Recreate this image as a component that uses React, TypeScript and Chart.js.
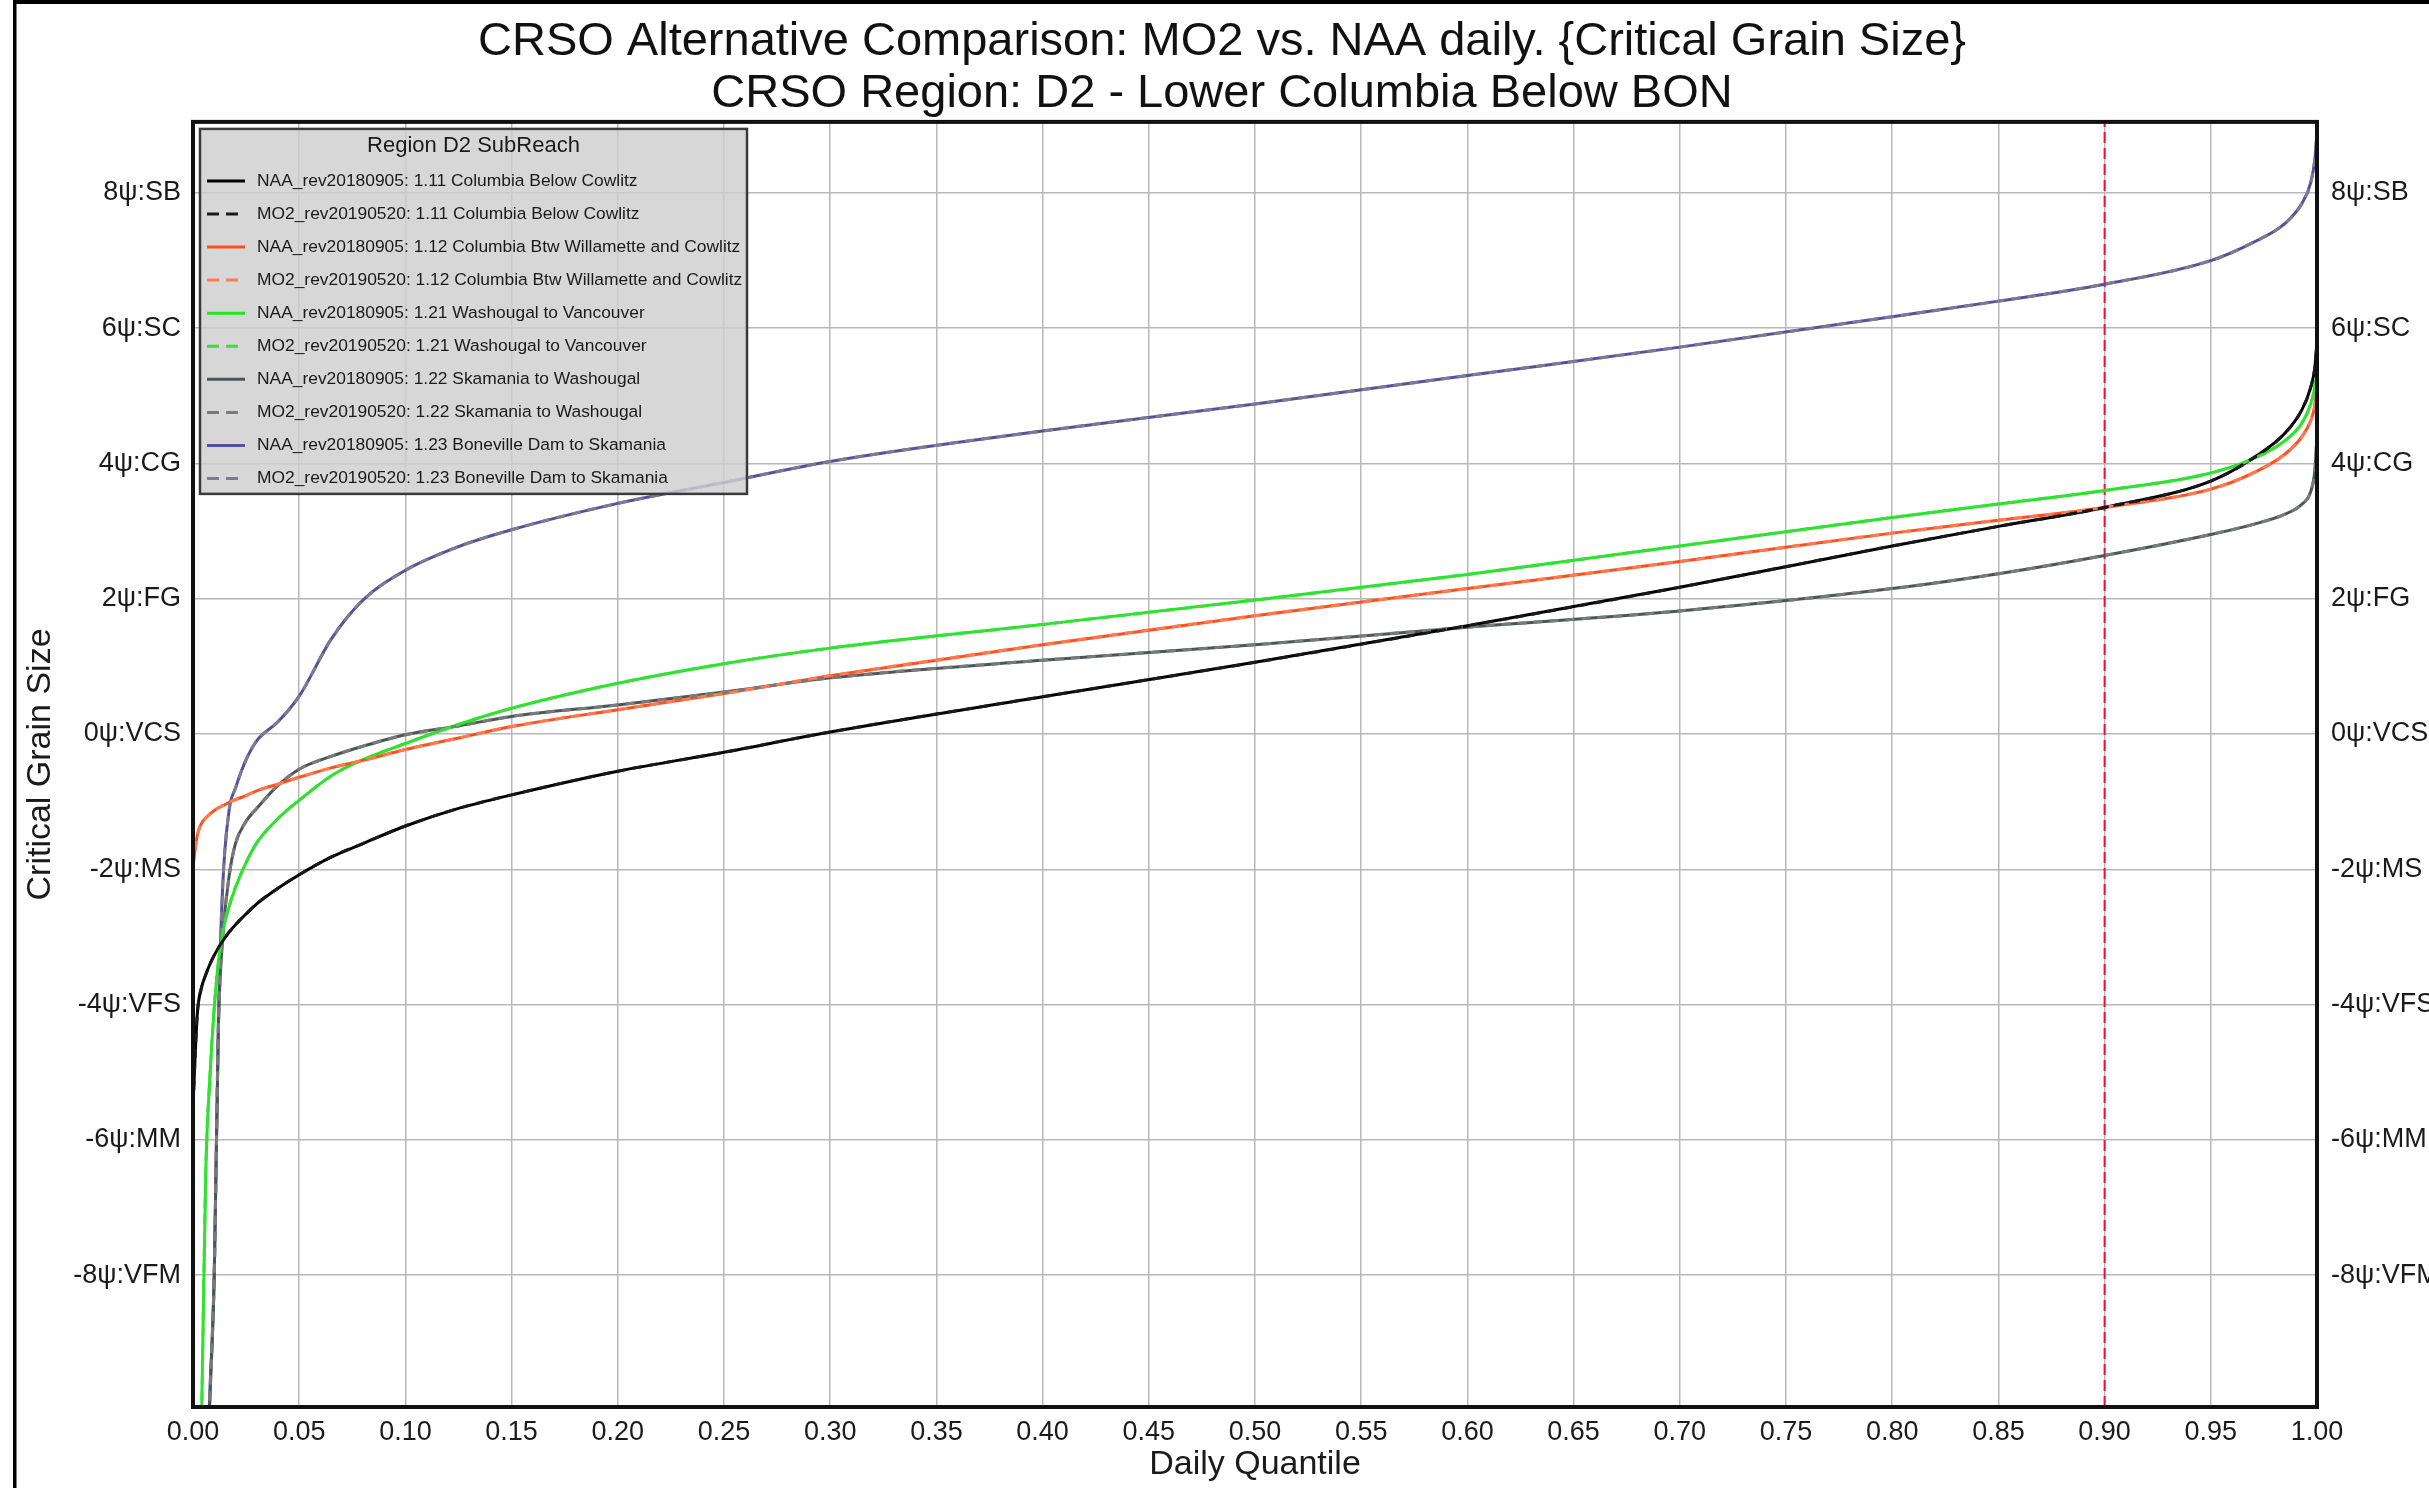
import React, { useEffect, useRef } from "react";
import { Chart, registerables } from "chart.js";

Chart.register(...registerables);

// ---------------- data ----------------
const quantiles = [0, 0.002, 0.004, 0.006, 0.008, 0.01, 0.012, 0.014, 0.017, 0.02, 0.025, 0.03, 0.04, 0.05, 0.065, 0.08, 0.1, 0.125, 0.15, 0.2, 0.25, 0.3, 0.4, 0.5, 0.6, 0.7, 0.8, 0.85, 0.9, 0.95, 0.97, 0.985, 0.993, 0.997, 0.999, 1.0];

const naa111 = [-5.5, -4.15, -3.75, -3.56, -3.4, -3.27, -3.16, -3.06, -2.93, -2.82, -2.66, -2.51, -2.28, -2.08, -1.82, -1.62, -1.36, -1.1, -0.9, -0.55, -0.27, 0.03, 0.55, 1.06, 1.6, 2.17, 2.78, 3.07, 3.35, 3.74, 4.08, 4.45, 4.8, 5.12, 5.42, 5.8];
const mo2111 = [-5.5, -4.15, -3.75, -3.56, -3.4, -3.27, -3.16, -3.06, -2.93, -2.82, -2.66, -2.51, -2.28, -2.08, -1.82, -1.62, -1.36, -1.1, -0.9, -0.55, -0.27, 0.03, 0.55, 1.06, 1.6, 2.17, 2.78, 3.07, 3.35, 3.74, 4.08, 4.45, 4.8, 5.12, 5.42, 5.8];

const naa112 = [-1.95, -1.5, -1.32, -1.24, -1.18, -1.13, -1.09, -1.06, -1.01, -0.97, -0.91, -0.84, -0.74, -0.64, -0.5, -0.39, -0.23, -0.06, 0.11, 0.36, 0.6, 0.86, 1.32, 1.75, 2.15, 2.55, 2.97, 3.16, 3.35, 3.62, 3.86, 4.14, 4.4, 4.63, 4.86, 5.15];
const mo2112 = [-1.95, -1.5, -1.32, -1.24, -1.18, -1.13, -1.09, -1.06, -1.01, -0.97, -0.91, -0.84, -0.74, -0.64, -0.5, -0.39, -0.23, -0.06, 0.11, 0.36, 0.6, 0.86, 1.32, 1.75, 2.15, 2.55, 2.97, 3.16, 3.35, 3.62, 3.86, 4.14, 4.4, 4.63, 4.86, 5.15];

const naa121 = [-16, -13, -10.2, -6.5, -5.05, -4.05, -3.36, -2.93, -2.55, -2.27, -1.9, -1.61, -1.25, -0.98, -0.62, -0.38, -0.14, 0.14, 0.38, 0.75, 1.04, 1.27, 1.62, 1.98, 2.36, 2.78, 3.2, 3.4, 3.6, 3.86, 4.07, 4.34, 4.6, 4.88, 5.15, 5.5];
const mo2121 = [-16, -13, -10.2, -6.5, -5.05, -4.05, -3.36, -2.93, -2.55, -2.27, -1.9, -1.61, -1.25, -0.98, -0.62, -0.38, -0.14, 0.14, 0.38, 0.75, 1.04, 1.27, 1.62, 1.98, 2.36, 2.78, 3.2, 3.4, 3.6, 3.86, 4.07, 4.34, 4.6, 4.88, 5.15, 5.5];

const naa122 = [-16, -15, -13.5, -11.5, -9.8, -8.0, -4.3, -3.0, -2.1, -1.62, -1.29, -1.1, -0.76, -0.52, -0.33, -0.18, -0.01, 0.12, 0.26, 0.43, 0.62, 0.83, 1.09, 1.32, 1.58, 1.82, 2.15, 2.37, 2.64, 2.95, 3.1, 3.25, 3.4, 3.58, 3.9, 4.4];
const mo2122 = [-16, -15, -13.5, -11.5, -9.8, -8.0, -4.3, -3.0, -2.1, -1.62, -1.29, -1.1, -0.76, -0.52, -0.33, -0.18, -0.01, 0.12, 0.26, 0.43, 0.62, 0.83, 1.09, 1.32, 1.58, 1.82, 2.15, 2.37, 2.64, 2.95, 3.1, 3.25, 3.4, 3.58, 3.9, 4.4];

const naa123 = [-16, -15, -13.5, -11.5, -9.7, -8.0, -4.2, -2.24, -1.13, -0.8, -0.38, -0.1, 0.18, 0.56, 1.4, 1.98, 2.42, 2.77, 3.02, 3.41, 3.72, 4.03, 4.48, 4.88, 5.3, 5.72, 6.17, 6.4, 6.65, 7.0, 7.27, 7.55, 7.85, 8.15, 8.5, 8.9];
const mo2123 = [-16, -15, -13.5, -11.5, -9.7, -8.0, -4.2, -2.24, -1.13, -0.8, -0.38, -0.1, 0.18, 0.56, 1.4, 1.98, 2.42, 2.77, 3.02, 3.41, 3.72, 4.03, 4.48, 4.88, 5.3, 5.72, 6.17, 6.4, 6.65, 7.0, 7.27, 7.55, 7.85, 8.15, 8.5, 8.9];

const seriesLabels = [
  "NAA_rev20180905: 1.11 Columbia Below Cowlitz",
  "MO2_rev20190520: 1.11 Columbia Below Cowlitz",
  "NAA_rev20180905: 1.12 Columbia Btw Willamette and Cowlitz",
  "MO2_rev20190520: 1.12 Columbia Btw Willamette and Cowlitz",
  "NAA_rev20180905: 1.21 Washougal to Vancouver",
  "MO2_rev20190520: 1.21 Washougal to Vancouver",
  "NAA_rev20180905: 1.22 Skamania to Washougal",
  "MO2_rev20190520: 1.22 Skamania to Washougal",
  "NAA_rev20180905: 1.23 Boneville Dam to Skamania",
  "MO2_rev20190520: 1.23 Boneville Dam to Skamania",
];
const seriesValues = [naa111, mo2111, naa112, mo2112, naa121, mo2121, naa122, mo2122, naa123, mo2123];
const seriesColors = ["#000000", "#1a1a1a", "#ff4f1c", "#ff7a50", "#22e822", "#3cdc3c", "#4a5757", "#7a7a7a", "#5450a2", "#7c7c8c"];
const seriesDashed = [false, true, false, true, false, true, false, true, false, true];

const yTickValues = [-8, -6, -4, -2, 0, 2, 4, 6, 8];
const yTickLabels = ["-8ψ:VFM", "-6ψ:MM", "-4ψ:VFS", "-2ψ:MS", "0ψ:VCS", "2ψ:FG", "4ψ:CG", "6ψ:SC", "8ψ:SB"];
const xTickValues = [0, 0.05, 0.1, 0.15, 0.2, 0.25, 0.3, 0.35, 0.4, 0.45, 0.5, 0.55, 0.6, 0.65, 0.7, 0.75, 0.8, 0.85, 0.9, 0.95, 1.0];
const yMin = -9.95;
const yMax = 9.05;
const refQuantile = 0.9;

const titleLines = [
  "CRSO Alternative Comparison: MO2 vs. NAA daily. {Critical Grain Size}",
  "CRSO Region: D2 - Lower Columbia Below BON",
];
const legendTitle = "Region D2 SubReach";
const xTitle = "Daily Quantile";
const yTitle = "Critical Grain Size";

// ---------------- layout ----------------
const W = 2429;
const H = 1488;
const FONT = '"Liberation Sans", Arial, Helvetica, sans-serif';

const framePlugin = {
  id: "figureFrame",
  afterDraw(chart: any) {
    const { ctx, chartArea } = chart;
    ctx.save();
    ctx.fillStyle = "#000";
    ctx.fillRect(13, 0, W - 13, 4);
    ctx.fillRect(13, 0, 3.5, H);
    ctx.strokeStyle = "#111";
    ctx.lineWidth = 4;
    ctx.strokeRect(chartArea.left, chartArea.top, chartArea.right - chartArea.left, chartArea.bottom - chartArea.top);
    ctx.restore();
  },
};

const legendPlugin = {
  id: "subreachLegend",
  afterDatasetsDraw(chart: any) {
    const { ctx, chartArea } = chart;
    const x0 = chartArea.left + 7;
    const y0 = chartArea.top + 7;
    const w = 547;
    const h = 365;
    ctx.save();
    ctx.fillStyle = "rgba(206,206,206,0.82)";
    ctx.fillRect(x0, y0, w, h);
    ctx.strokeStyle = "#3a3a3a";
    ctx.lineWidth = 2.5;
    ctx.strokeRect(x0, y0, w, h);
    ctx.fillStyle = "#1a1a1a";
    ctx.textBaseline = "middle";
    ctx.textAlign = "center";
    ctx.font = `22px ${FONT}`;
    ctx.fillText(legendTitle, x0 + w / 2, y0 + 17);
    ctx.textAlign = "left";
    ctx.font = `17.4px ${FONT}`;
    const items = chart.data.datasets.filter((d: any) => d.inLegend);
    items.forEach((ds: any, i: number) => {
      const y = y0 + 52 + i * 33.07;
      ctx.strokeStyle = ds.borderColor;
      ctx.lineWidth = 3;
      ctx.setLineDash(ds.borderDash && ds.borderDash.length ? [12, 7] : []);
      ctx.beginPath();
      ctx.moveTo(x0 + 7, y);
      ctx.lineTo(x0 + 45, y);
      ctx.stroke();
      ctx.setLineDash([]);
      ctx.fillStyle = "#1a1a1a";
      ctx.fillText(ds.label, x0 + 57, y);
    });
    ctx.restore();
  },
};

export default function App() {
  const ref = useRef<HTMLCanvasElement | null>(null);

  useEffect(() => {
    if (!ref.current) return;
    Chart.defaults.font.family = FONT;
    Chart.defaults.color = "#1a1a1a";

    const datasets: any[] = seriesValues.map((vals, i) => ({
      label: seriesLabels[i],
      data: quantiles.map((q, k) => ({ x: q, y: vals[k] })),
      borderColor: seriesColors[i],
      backgroundColor: seriesColors[i],
      borderWidth: 3,
      borderDash: seriesDashed[i] ? [9, 7] : [],
      pointRadius: 0,
      cubicInterpolationMode: "monotone",
      fill: false,
      order: seriesDashed[i] ? 1 : 2,
      inLegend: true,
    }));
    datasets.push({
      label: "ref",
      data: [
        { x: refQuantile, y: yMin },
        { x: refQuantile, y: yMax },
      ],
      borderColor: "#ee1133",
      borderWidth: 2,
      borderDash: [11, 5],
      pointRadius: 0,
      fill: false,
      order: 5,
      inLegend: false,
    });

    const setY = (scale: any) => {
      scale.ticks = yTickValues.map((v) => ({ value: v }));
    };
    const yLabel = (v: any) => {
      const idx = yTickValues.indexOf(Number(v));
      return idx >= 0 ? yTickLabels[idx] : "";
    };

    const chart = new Chart(ref.current, {
      type: "line",
      data: { datasets },
      plugins: [legendPlugin, framePlugin],
      options: {
        animation: false,
        responsive: false,
        events: [],
        layout: { padding: { left: 15, right: 0, top: 0, bottom: 0 } },
        plugins: {
          legend: { display: false },
          tooltip: { enabled: false },
          title: {
            display: true,
            text: titleLines,
            color: "#111",
            font: { size: 47, weight: "normal", lineHeight: 1.1 },
            padding: { top: 16, bottom: 2.5 },
          },
        },
        scales: {
          x: {
            type: "linear",
            min: 0,
            max: 1,
            afterBuildTicks: (scale: any) => {
              scale.ticks = xTickValues.map((v) => ({ value: v }));
            },
            afterFit: (scale: any) => {
              scale.height = 81;
            },
            ticks: {
              padding: 9,
              maxRotation: 0,
              autoSkip: false,
              font: { size: 27 },
              color: "#1a1a1a",
              callback: (v: any) => Number(v).toFixed(2),
            },
            grid: { color: "#b8b8b8", lineWidth: 1.5, drawTicks: false },
            border: { display: false },
            title: {
              display: true,
              text: xTitle,
              font: { size: 34, lineHeight: 1.2 },
              color: "#1a1a1a",
              padding: { top: 0, bottom: 3 },
            },
          },
          y: {
            type: "linear",
            position: "left",
            min: yMin,
            max: yMax,
            afterBuildTicks: setY,
            afterFit: (scale: any) => {
              scale.width = 178;
            },
            ticks: { padding: 12, font: { size: 27 }, color: "#1a1a1a", callback: yLabel },
            grid: { color: "#b8b8b8", lineWidth: 1.5, drawTicks: false },
            border: { display: false },
            title: {
              display: true,
              text: yTitle,
              font: { size: 34, lineHeight: 1.2 },
              color: "#1a1a1a",
              padding: { top: 5, bottom: 0 },
            },
          },
          y2: {
            type: "linear",
            position: "right",
            min: yMin,
            max: yMax,
            afterBuildTicks: setY,
            afterFit: (scale: any) => {
              scale.width = 112;
            },
            ticks: { padding: 14, font: { size: 27 }, color: "#1a1a1a", callback: yLabel },
            grid: { display: false, drawTicks: false },
            border: { display: false },
          },
        },
      } as any,
    });
    return () => chart.destroy();
  }, []);

  return (
    <div style={{ position: "absolute", left: 0, top: 0, width: W, height: H, background: "#fff", overflow: "hidden" }}>
      <canvas ref={ref} width={W} height={H} style={{ width: W, height: H, display: "block" }} />
    </div>
  );
}
